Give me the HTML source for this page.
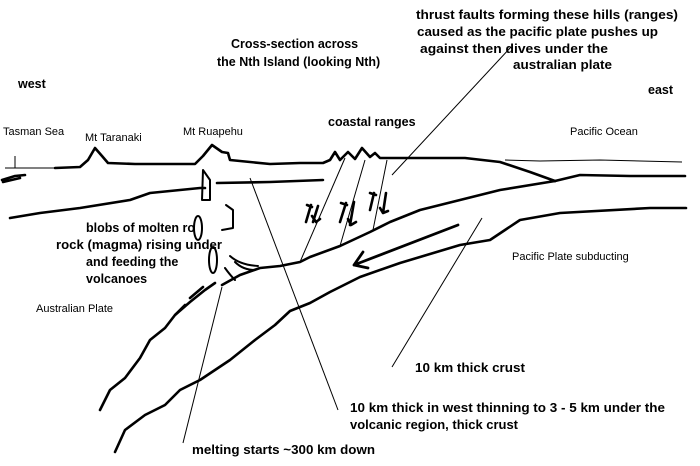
<!DOCTYPE html>
<html><head><meta charset="utf-8">
<style>
html,body{margin:0;padding:0;background:#fff;}
svg{display:block;}
text{font-family:"Liberation Sans",sans-serif;fill:#000;}
.b{font-weight:bold;font-size:12.5px;}
.n{font-size:11px;}
</style></head>
<body>
<svg width="700" height="466" viewBox="0 0 700 466" xmlns="http://www.w3.org/2000/svg">
<g fill="none" stroke="#000" stroke-width="2.6" stroke-linejoin="round" stroke-linecap="round">
<path d="M55,168 L80,167 L88,160 L95,148 L102,156 L108,163 L135,164 L195,164 L203,156 L212,145 L222,152 L228,153 L230,160 L270,164 L300,163 L323,163 L330,160 L335,152 L340,160 L348,152 L355,159 L362,148 L370,157 L375,153 L380,158 L390,158 L465,158 L500,162 L530,172 L555,181"/>
<path d="M555,181 L580,175 L630,176 L685,176"/>
<path d="M217,183 L270,182 L323,180"/>
<path d="M10,218 L40,213 L80,208 L130,200 L150,193 L200,188 L205,188"/>
<path d="M2,180 L15,176 L25,175 M3,182 L20,178"/>
<path d="M222,285 L240,275 L260,268 L280,266 L300,262 L310,257 L340,246 L370,232 L390,222 L420,210 L460,200 L500,190 L555,181"/>
<path d="M100,410 L110,390 L125,378 L140,358 L150,340 L165,328 L175,315 L190,302 L205,290 L215,283"/>
<path d="M175,315 L185,305 M190,298 L203,287"/>
<path d="M115,452 L125,430 L145,415 L165,405 L180,390 L200,380 L230,360 L255,340 L275,325 L290,311 L310,303 L330,292 L360,277 L400,263 L460,245 L490,240 L505,230 L520,220 L560,213 L650,208 L686,208"/>
<path d="M203,170 L210,180 L210,200 L202,200 Z" stroke-width="2"/>
<path d="M226,205 L233,210 L233,228 L222,230" stroke-width="2"/>
<ellipse cx="198" cy="228" rx="4" ry="12" stroke-width="2"/>
<ellipse cx="213" cy="260" rx="4" ry="13" stroke-width="2"/>
<path d="M230,256 Q240,265 258,266 M235,262 Q243,270 255,270 M225,268 Q230,275 235,280" stroke-width="2"/>
<path d="M458,225 L354,265 M354,265 L363,252 M354,265 L368,268" stroke-width="2.8"/>
<g stroke-width="2.6">
<path d="M306,222 L311,205 M307,205 L312,207"/>
<path d="M318,206 L313,222 M312,216 L316,222 L320,219"/>
<path d="M340,222 L346,203 M341,203 L347,205"/>
<path d="M354,202 L350,225 M348,219 L351,225 L356,222"/>
<path d="M370,210 L374,193 M370,193 L376,195"/>
<path d="M386,193 L383,213 M380,208 L383,213 L388,211"/>
</g>
</g>
<g fill="none" stroke="#000" stroke-width="1">
<path d="M55,168 L5,168 M15,156 L15,168"/>
<path d="M505,160 L540,161 L600,160 L682,162"/>
<path d="M250,178 L338,410"/>
<path d="M183,443 L222,287"/>
<path d="M482,218 L392,367"/>
<path d="M511,47 L392,175"/>
<path d="M345,158 L300,262"/>
<path d="M365,160 L340,246"/>
<path d="M387,160 L373,230"/>
</g>
<text class="b" x="18" y="88">west</text>
<text class="b" x="648" y="94">east</text>
<text class="b" x="231" y="48">Cross-section across</text>
<text class="b" x="217" y="66">the Nth Island (looking Nth)</text>
<text class="b" x="416" y="19" textLength="262" lengthAdjust="spacingAndGlyphs">thrust faults forming these  hills (ranges)</text>
<text class="b" x="417" y="36" textLength="241" lengthAdjust="spacingAndGlyphs">caused as the pacific plate pushes up</text>
<text class="b" x="420" y="53" textLength="188" lengthAdjust="spacingAndGlyphs">against then dives under the</text>
<text class="b" x="513" y="69" textLength="99" lengthAdjust="spacingAndGlyphs">australian plate</text>
<text class="n" x="3" y="135">Tasman Sea</text>
<text class="n" x="85" y="141">Mt Taranaki</text>
<text class="n" x="183" y="135">Mt Ruapehu</text>
<text class="b" x="328" y="126">coastal ranges</text>
<text class="n" x="570" y="135">Pacific Ocean</text>
<text class="b" x="86" y="232">blobs of molten ro</text>
<text class="b" x="56" y="249" textLength="166" lengthAdjust="spacingAndGlyphs">rock (magma) rising under</text>
<text class="b" x="86" y="266">and feeding the</text>
<text class="b" x="86" y="283">volcanoes</text>
<text class="n" x="36" y="312">Australian Plate</text>
<text class="n" x="512" y="260">Pacific Plate  subducting</text>
<text class="b" x="415" y="372" textLength="110" lengthAdjust="spacingAndGlyphs">10 km thick crust</text>
<text class="b" x="350" y="412" textLength="315" lengthAdjust="spacingAndGlyphs">10 km thick in west thinning to 3 - 5 km under the</text>
<text class="b" x="350" y="429" textLength="168" lengthAdjust="spacingAndGlyphs">volcanic region, thick crust</text>
<text class="b" x="192" y="454" textLength="183" lengthAdjust="spacingAndGlyphs">melting starts ~300 km down</text>
</svg>
</body></html>
